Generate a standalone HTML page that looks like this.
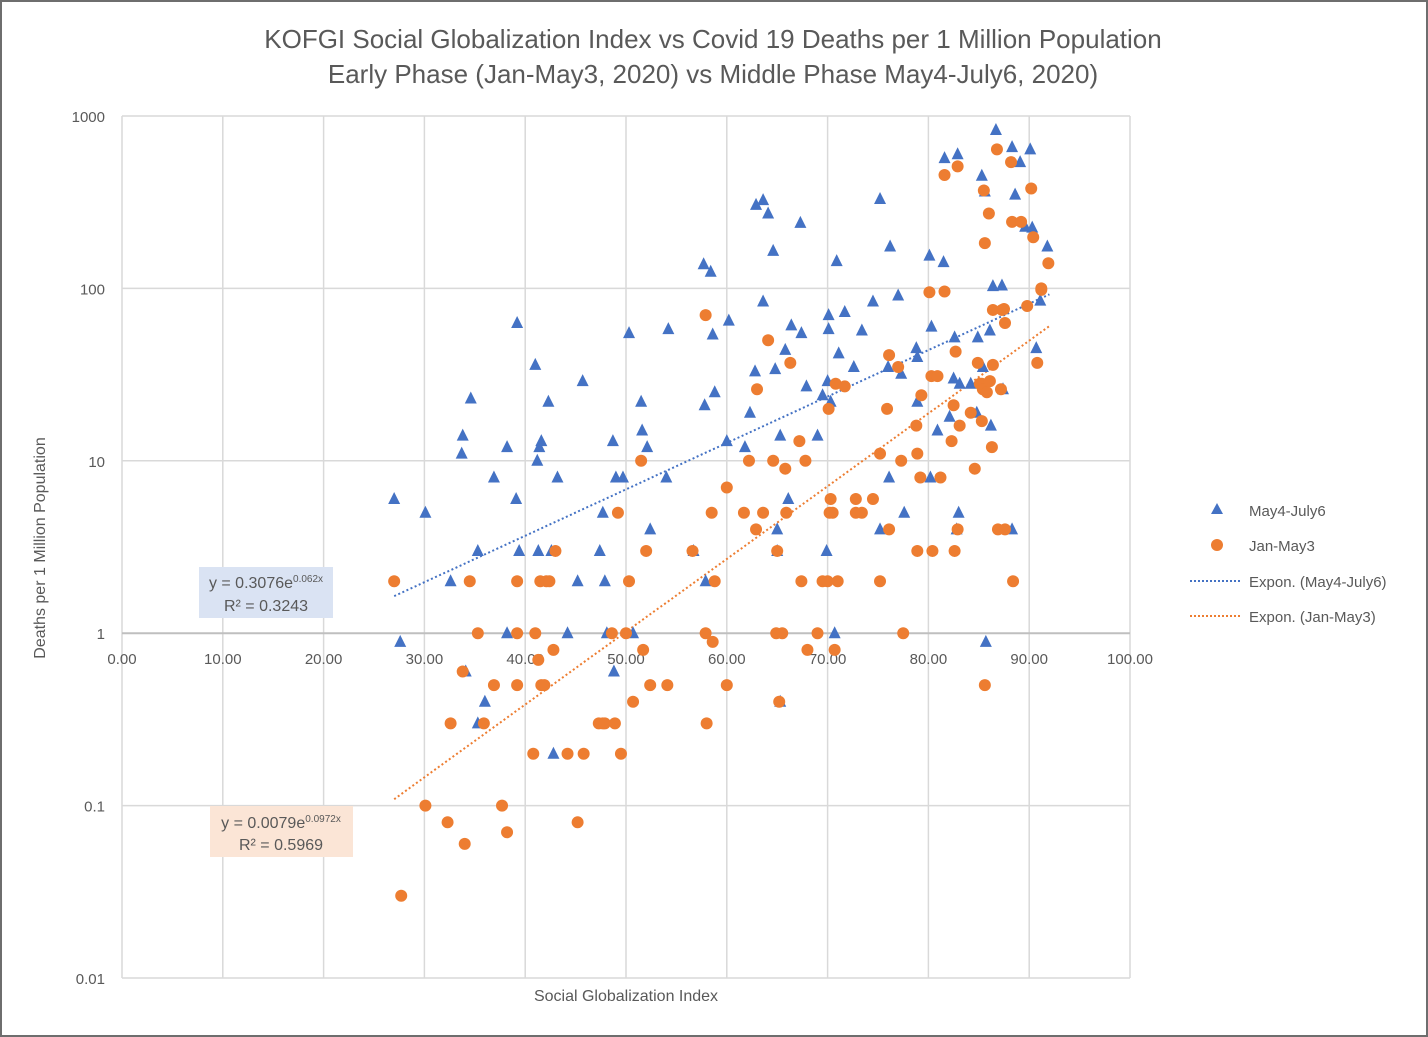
<!DOCTYPE html>
<html><head><meta charset="utf-8"><style>
html,body{margin:0;padding:0;background:#fff}
svg{display:block;font-family:"Liberation Sans","DejaVu Sans",sans-serif}
</style></head><body>
<svg id="chart" width="1428" height="1037" viewBox="0 0 1428 1037">
<rect x="1" y="1" width="1426" height="1035" fill="#fff" stroke="#6e6e6e" stroke-width="2"/>
<text x="713" y="48" text-anchor="middle" font-size="26" fill="#595959">KOFGI Social Globalization Index vs Covid 19 Deaths per 1 Million Population</text>
<text x="713" y="83" text-anchor="middle" font-size="26" fill="#595959">Early Phase (Jan-May3, 2020) vs Middle Phase May4-July6, 2020)</text>
<g id="grid"></g>
<g id="axes"></g>
<g id="trend"></g>
<g id="marks"></g>
<text x="45" y="548" text-anchor="middle" font-size="16" fill="#595959" transform="rotate(-90 45 548)">Deaths per 1 Million Population</text>
<text x="626" y="1001" text-anchor="middle" font-size="16" fill="#595959">Social Globalization Index</text>
<g>
<rect x="199" y="567" width="134" height="51" fill="#dae3f3"/>
<text x="266" y="588" text-anchor="middle" font-size="16" fill="#595959">y = 0.3076e<tspan font-size="10" dy="-6">0.062x</tspan></text>
<text x="266" y="611" text-anchor="middle" font-size="16" fill="#595959">R² = 0.3243</text>
</g>
<g>
<rect x="210" y="806" width="143" height="51" fill="#fbe5d6"/>
<text x="281" y="828" text-anchor="middle" font-size="16" fill="#595959">y = 0.0079e<tspan font-size="10" dy="-6">0.0972x</tspan></text>
<text x="281" y="850" text-anchor="middle" font-size="16" fill="#595959">R² = 0.5969</text>
</g>
<g>
<g><polygon points="1217,503 1223,514 1211,514" fill="#4472c4"/><text x="1249" y="516" font-size="15" fill="#595959">May4-July6</text></g>
<g><circle cx="1217" cy="545" r="6" fill="#ed7d31"/><text x="1249" y="551" font-size="15" fill="#595959">Jan-May3</text></g>
<g><line x1="1190" y1="581" x2="1240" y2="581" stroke="#4472c4" stroke-width="2" stroke-dasharray="2,2"/><text x="1249" y="587" font-size="15" fill="#595959">Expon. (May4-July6)</text></g>
<g><line x1="1190" y1="616" x2="1240" y2="616" stroke="#ed7d31" stroke-width="2" stroke-dasharray="2,2"/><text x="1249" y="622" font-size="15" fill="#595959">Expon. (Jan-May3)</text></g>
</g>
</svg>
<script>
const xTicks=[0,10,20,30,40,50,60,70,80,90,100];
const yTicks=[0.01,0.1,1,10,100,1000];
const yTickLabels=["0.01","0.1","1","10","100","1000"];
const blueX=[27.0,27.6,30.1,32.6,33.7,33.8,34.1,34.6,35.3,36.0,35.3,36.9,38.2,38.2,39.1,39.2,39.4,41.0,41.2,41.4,41.6,41.3,42.3,42.6,42.8,43.2,44.2,45.2,45.7,47.4,47.7,47.9,48.1,48.7,48.8,49.0,49.7,50.3,50.7,51.5,51.6,52.1,52.4,54.2,54.0,56.7,57.7,57.8,58.4,58.6,58.8,57.9,60.0,60.2,61.8,62.3,62.9,62.8,63.6,63.6,64.1,64.6,64.8,65.0,65.0,65.3,65.3,65.8,66.1,66.4,67.3,67.4,67.9,69.0,69.5,69.9,70.0,70.1,70.1,70.3,70.9,71.1,71.7,70.7,72.6,73.4,74.5,75.2,75.2,76.0,76.2,76.1,77.0,77.3,77.6,78.8,78.9,78.9,80.1,80.3,80.2,80.9,81.6,81.5,82.1,82.5,82.6,82.8,82.9,83.0,83.1,84.2,84.8,84.9,85.3,85.4,85.7,85.6,86.2,86.4,86.1,86.7,87.3,87.4,88.3,88.3,88.6,89.1,89.6,90.1,90.3,90.7,91.1,91.8];
const blueY=[6,0.89,5,2,11,14,0.6,23,3,0.4,0.3,8,12,1,6,63,3,36,10,12,13,3,22,3,0.2,8,1,2,29,3,5,2,1,13,0.6,8,8,55,1,22,15,12,4,58,8,3,138,21,125,54,25,2,13,65,12,19,305,33,325,84,272,165,34,3,4,14,0.4,44,6,61,240,55,27,14,24,3,29,58,70,22,144,42,73,1,35,57,84,330,4,35,175,8,91,32,5,45,22,40,155,60,8,15,570,142,18,30,52,4,600,5,28,28,19,52,450,35,0.89,365,16,103,57,830,104,26,4,660,350,540,228,640,225,45,85,175];
const orangeX=[27.0,27.7,30.1,32.3,32.6,33.8,34.0,34.5,35.3,35.9,36.9,37.7,38.2,39.2,39.2,39.2,40.8,41.0,41.3,41.6,41.9,41.5,42.1,42.4,42.8,43.0,44.2,45.2,45.8,47.3,47.7,47.9,48.6,48.9,49.2,49.5,50.0,50.3,50.7,51.5,51.7,52.0,52.4,54.1,56.6,57.9,57.9,58.0,58.5,58.6,58.8,60.0,60.0,61.7,62.2,62.9,63.0,63.6,64.1,64.6,64.9,65.0,65.2,65.5,65.8,65.9,66.3,67.2,67.4,67.8,68.0,69.0,69.5,70.1,70.2,70.3,70.0,70.5,70.8,71.0,70.7,71.7,72.8,72.8,73.4,74.5,75.2,75.2,75.9,76.1,76.1,77.0,77.3,77.5,78.8,78.9,78.9,79.2,79.3,80.1,80.3,80.4,80.9,81.2,81.6,81.6,82.3,82.5,82.6,82.7,82.9,82.9,83.1,84.2,84.6,84.9,85.1,85.3,85.3,85.4,85.5,85.6,85.6,85.8,86.0,86.1,86.3,86.4,86.4,86.8,86.9,87.2,87.3,87.5,87.6,87.6,88.2,88.3,88.4,89.2,89.8,90.2,90.4,90.8,91.2,91.2,91.9];
const orangeY=[2,0.03,0.1,0.08,0.3,0.6,0.06,2,1,0.3,0.5,0.1,0.07,0.5,1,2,0.2,1,0.7,0.5,0.5,2,2,2,0.8,3,0.2,0.08,0.2,0.3,0.3,0.3,1,0.3,5,0.2,1,2,0.4,10,0.8,3,0.5,0.5,3,70,1,0.3,5,0.89,2,7,0.5,5,10,4,26,5,50,10,1,3,0.4,1,9,5,37,13,2,10,0.8,1,2,20,5,6,2,5,28,2,0.8,27,6,5,5,6,11,2,20,41,4,35,10,1,16,11,3,8,24,95,31,3,31,8,96,455,13,21,3,43,4,510,16,19,9,37,28,17,28,26,370,183,0.5,25,272,29,12,75,36,640,4,26,75,76,4,63,540,243,2,243,79,380,198,37,100,98,140];
const blueFit={a:0.3076,b:0.062,x0:27,x1:92};
const orangeFit={a:0.0079,b:0.0972,x0:27,x1:92};

const NS="http://www.w3.org/2000/svg";
const X0=122,X1=1130,YTOP=116,YBOT=978;
function sx(v){return X0+(v-0)/(100-0)*(X1-X0);}
function sy(v){return YBOT-(Math.log10(v)+2)/5*(YBOT-YTOP);}
function mk(tag,attrs,parent){const e=document.createElementNS(NS,tag);for(const k in attrs)e.setAttribute(k,attrs[k]);parent.appendChild(e);return e;}
const grid=document.getElementById('grid'),axes=document.getElementById('axes'),marks=document.getElementById('marks'),trend=document.getElementById('trend');
xTicks.forEach(t=>{
  const l=mk('line',{x1:sx(t),x2:sx(t),y1:YTOP,y2:YBOT,stroke:'#d9d9d9','stroke-width':1.5},grid);
  
  
  const tx=mk('text',{x:sx(t),y:sy(1)+31,'text-anchor':'middle','font-size':15,fill:'#595959'},axes);
  tx.textContent=t.toFixed(2);
  
  
});
yTicks.forEach((t,i)=>{
  const l=mk('line',{x1:X0,x2:X1,y1:sy(t),y2:sy(t),stroke:t===1?'#bfbfbf':'#d9d9d9','stroke-width':t===1?2:1.5},grid);
  
  
  const tx=mk('text',{x:105,y:sy(t)+6,'text-anchor':'end','font-size':15,fill:'#595959'},axes);
  tx.textContent=yTickLabels[i];
  
  
});
function fitLine(f,color,name){
  let d='';
  for(let i=0;i<=60;i++){const x=f.x0+(f.x1-f.x0)*i/60;const y=f.a*Math.exp(f.b*x);d+=(i?'L':'M')+sx(x).toFixed(1)+','+sy(y).toFixed(1);}
  const p=mk('path',{d:d,fill:'none',stroke:color,'stroke-width':2,'stroke-dasharray':'2,2.5'},trend);
  
  
}
fitLine(blueFit,'#4472c4','trendline-may4-july6');
fitLine(orangeFit,'#ed7d31','trendline-jan-may3');
blueX.forEach((x,i)=>{
  const cx=sx(x),cy=sy(blueY[i]);
  const p=mk('polygon',{points:`${cx},${cy-7} ${cx+6},${cy+5} ${cx-6},${cy+5}`,fill:'#4472c4'},marks);
  
  
});
orangeX.forEach((x,i)=>{
  const c=mk('circle',{cx:sx(x),cy:sy(orangeY[i]),r:6,fill:'#ed7d31'},marks);
  
  
});
</script>
</body></html>
